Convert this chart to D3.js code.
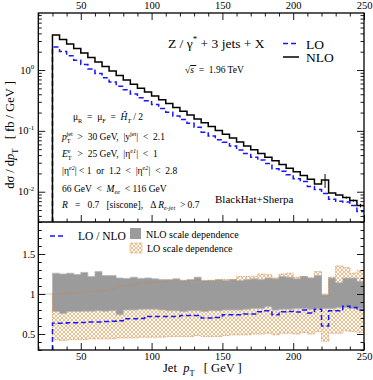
<!DOCTYPE html>
<html>
<head>
<meta charset="utf-8">
<script src="https://cdn.jsdelivr.net/npm/d3@7"></script>
<style>
  body { margin: 0; background: #fff; }
  svg text { font-family: "Liberation Serif", "DejaVu Serif", serif; white-space: pre; }
</style>
</head>
<body>
<div id="chart"></div>
<script>
// bins (lower edge, GeV), 5 GeV wide
const binLow = [30, 35, 40, 45, 50, 55, 60, 65, 70, 75, 80, 85, 90, 95, 100, 105, 110, 115, 120, 125,
  130, 135, 140, 145, 150, 155, 160, 165, 170, 175, 180, 185, 190, 195, 200, 205, 210, 215, 220, 225,
  230, 235, 240, 245];
const binWidth = 5;

// dsigma/dpT [fb/GeV]
const nlo = [3.76, 3.17, 2.675, 2.256, 1.903, 1.605, 1.354, 1.142, 0.963, 0.812, 0.685, 0.582, 0.502, 0.435,
  0.375, 0.325, 0.2815, 0.2428, 0.2103, 0.1822, 0.1572, 0.1361, 0.1179, 0.1017, 0.0881, 0.0760, 0.0656,
  0.0564, 0.0490, 0.0426, 0.0370, 0.0322, 0.0280, 0.0243, 0.0212, 0.0184, 0.0160, 0.01338, 0.01557,
  0.00952, 0.00883, 0.00803, 0.00717, 0.00593];
const lo = [2.388, 2.013, 1.712, 1.444, 1.227, 1.043, 0.880, 0.748, 0.636, 0.540, 0.473, 0.402, 0.349, 0.313,
  0.270, 0.234, 0.2027, 0.1748, 0.1535, 0.1330, 0.1148, 0.0953, 0.0825, 0.0717, 0.0652, 0.0562, 0.0485,
  0.0423, 0.0368, 0.0332, 0.0292, 0.0238, 0.0218, 0.0190, 0.0164, 0.0147, 0.0122, 0.01084, 0.00934,
  0.00752, 0.00698, 0.00679, 0.00595, 0.00474];
const nloErr = [0, 0, 0, 0, 0, 0, 0, 0, 0, 0, 0, 0, 0, 0, 0, 0, 0, 0, 0, 0, 0, 0, 0, 0, 0, 0, 0, 0, 0, 0,
  0, 0, 0, 0, 0, 0, 0, 0, 0.004, 0, 0, 0.0003, 0.0003, 0.0004];

// scale dependence bands, relative to NLO
const nloBandHigh = [1.26, 1.25, 1.26, 1.245, 1.27, 1.22, 1.28, 1.23, 1.23, 1.20, 1.195, 1.21, 1.195, 1.20,
  1.19, 1.18, 1.18, 1.19, 1.17, 1.18, 1.21, 1.17, 1.17, 1.18, 1.17, 1.18, 1.17, 1.18, 1.19, 1.18, 1.20,
  1.19, 1.22, 1.21, 1.19, 1.22, 1.20, 1.23, 0.99, 1.20, 1.14, 1.20, 1.20, 1.16];
const nloBandLow = [0.78, 0.755, 0.78, 0.78, 0.785, 0.785, 0.79, 0.785, 0.79, 0.74, 0.80, 0.80, 0.81, 0.81,
  0.81, 0.80, 0.79, 0.79, 0.78, 0.79, 0.79, 0.78, 0.79, 0.79, 0.80, 0.80, 0.80, 0.81, 0.82, 0.82, 0.84,
  0.80, 0.81, 0.81, 0.82, 0.82, 0.81, 0.82, 0.82, 0.82, 0.83, 0.83, 0.82, 0.82];
const loBandHigh = [1.00, 1.005, 1.01, 1.02, 1.02, 1.03, 1.04, 1.04, 1.06, 1.10, 1.10, 1.11, 1.14, 1.14,
  1.145, 1.15, 1.16, 1.16, 1.17, 1.17, 1.17, 1.16, 1.17, 1.17, 1.18, 1.18, 1.22, 1.22, 1.22, 1.25, 1.24,
  1.20, 1.25, 1.26, 1.21, 1.22, 1.20, 1.28, 0.97, 1.21, 1.35, 1.33, 1.26, 1.29];
const loBandLow = [0.43, 0.42, 0.43, 0.43, 0.43, 0.44, 0.44, 0.44, 0.44, 0.45, 0.45, 0.45, 0.46, 0.46,
  0.46, 0.46, 0.47, 0.47, 0.47, 0.47, 0.48, 0.47, 0.47, 0.47, 0.48, 0.49, 0.49, 0.49, 0.50, 0.50, 0.51,
  0.49, 0.51, 0.51, 0.50, 0.52, 0.50, 0.53, 0.41, 0.51, 0.51, 0.54, 0.53, 0.52];

// ticks
const xTicks = [50, 100, 150, 200, 250];
const xMinor = [20, 30, 40, 60, 70, 80, 90, 110, 120, 130, 140, 160, 170, 180, 190, 210, 220, 230, 240];
const yTopTicks = [0.01, 0.1, 1];
const yTopExp = ["-2", "-1", "0"];
const yBotTicks = [0.5, 1, 1.5];
const yBotMinor = [0.3, 0.4, 0.6, 0.7, 0.8, 0.9, 1.1, 1.2, 1.3, 1.4, 1.6, 1.7, 1.8, 1.9];

const W = 373, H = 380;
const pLeft = 38.3, pRight = 364, pTop = 13, pMid = 222, pBottom = 350;
const serif = "Liberation Serif";

const svg = d3.select("#chart").append("svg")
  .attr("width", W).attr("height", H);

const x = d3.scaleLinear().domain([20, 250]).range([pLeft, pRight]);
const yTop = d3.scaleLog().domain([0.00318, 8.65]).range([pMid, pTop]);
const yBot = d3.scaleLinear().domain([0.3, 1.9]).range([pBottom, pMid]);

// log minor ticks
const yTopMinor = [];
[0.001, 0.01, 0.1, 1].forEach(d => {
  for (let m = 2; m <= 9; m++) {
    const v = d * m;
    if (v > yTop.domain()[0] && v < yTop.domain()[1]) yTopMinor.push(v);
  }
});

const defs = svg.append("defs");
defs.append("clipPath").attr("id", "clipTop").append("rect")
  .attr("x", pLeft).attr("y", pTop).attr("width", pRight - pLeft).attr("height", pMid - pTop);
defs.append("clipPath").attr("id", "clipBot").append("rect")
  .attr("x", pLeft).attr("y", pMid).attr("width", pRight - pLeft).attr("height", pBottom - pMid);
const pat = defs.append("pattern").attr("id", "hatch")
  .attr("patternUnits", "userSpaceOnUse").attr("width", 4).attr("height", 4);
pat.append("path").attr("d", "M0,0L4,4M4,0L0,4M-1,1L1,-1M3,5L5,3M-1,3L1,5M3,-1L5,1")
  .attr("stroke", "#eab27a").attr("stroke-width", 0.85);

// rich text helper (sub / sup / italic pieces)
function rich(g, px, py, parts, size, anchor) {
  const t = g.append("text").attr("x", px).attr("y", py)
    .attr("font-size", size).attr("text-anchor", anchor || "start")
    .attr("xml:space", "preserve");
  let shift = 0;
  parts.forEach(p => {
    const target = p.sub ? size * 0.3 : p.sup ? -size * 0.42 : 0;
    const s = t.append("tspan").attr("dy", target - shift).text(p.t);
    shift = target;
    if (p.sub || p.sup) s.attr("font-size", size * 0.66);
    if (p.it) s.attr("font-style", "italic");
    if (p.dx) s.attr("dx", p.dx);
    if (p.over) s.style("text-decoration", "overline");
  });
  return t;
}

// step points for histograms
function steps(vals, floor) {
  const pts = [];
  if (floor !== undefined) pts.push([binLow[0], floor]);
  vals.forEach((v, i) => pts.push([binLow[i], v]));
  pts.push([binLow[vals.length - 1] + binWidth, vals[vals.length - 1]]);
  return pts;
}

// ===== upper panel =====
const gTop = svg.append("g").attr("clip-path", "url(#clipTop)");
const lineTop = d3.line().curve(d3.curveStepAfter)
  .x(d => x(d[0])).y(d => yTop(d[1]));

gTop.append("path")
  .attr("d", lineTop(steps(lo, yTop.domain()[0])))
  .attr("fill", "none").attr("stroke", "#1515ff").attr("stroke-width", 1.5)
  .attr("stroke-dasharray", "5,3");
gTop.append("path")
  .attr("d", lineTop(steps(nlo, yTop.domain()[0])))
  .attr("fill", "none").attr("stroke", "#000").attr("stroke-width", 1.5);
gTop.selectAll(".err").data(nlo.map((v, i) => ({ v, e: nloErr[i], b: binLow[i] })).filter(d => d.e > 0))
  .enter().append("line")
  .attr("x1", d => x(d.b + binWidth / 2)).attr("x2", d => x(d.b + binWidth / 2))
  .attr("y1", d => yTop(d.v + d.e)).attr("y2", d => yTop(d.v - d.e))
  .attr("stroke", "#000").attr("stroke-width", 1);

// ===== lower panel =====
const gBot = svg.append("g").attr("clip-path", "url(#clipBot)");
gBot.append("line")
  .attr("x1", pLeft).attr("x2", pRight).attr("y1", yBot(1)).attr("y2", yBot(1))
  .attr("stroke", "#cfcfcf").attr("stroke-width", 1);

const band = d3.area().curve(d3.curveStepAfter)
  .x(d => x(d[0])).y0(d => yBot(d[1])).y1(d => yBot(d[2]));
function bandPts(lowV, highV) {
  const pts = lowV.map((v, i) => [binLow[i], v, highV[i]]);
  pts.push([binLow[lowV.length - 1] + binWidth, lowV[lowV.length - 1], highV[highV.length - 1]]);
  return pts;
}
const loPts = bandPts(loBandLow, loBandHigh);
gBot.append("path").attr("d", band(loPts)).attr("fill", "url(#hatch)");
gBot.append("path").attr("d", band(bandPts(nloBandLow, nloBandHigh)))
  .attr("fill", "#9b9b9b").attr("stroke", "#b5b5b5").attr("stroke-width", 0.8);
gBot.append("path").attr("d", band(loPts))
  .attr("fill", "none").attr("stroke", "#cf8840").attr("stroke-width", 0.7)
  .attr("stroke-dasharray", "1.5,1");

const ratio = lo.map((v, i) => v / nlo[i]);
const lineBot = d3.line().curve(d3.curveStepAfter)
  .x(d => x(d[0])).y(d => yBot(d[1]));
gBot.append("path")
  .attr("d", lineBot(steps(ratio, yBot.domain()[0])))
  .attr("fill", "none").attr("stroke", "#1515ff").attr("stroke-width", 1.5)
  .attr("stroke-dasharray", "5,3");

// ===== axes =====
function styleAxis(g) {
  g.select(".domain").remove();
  g.attr("font-family", serif).attr("font-size", 10.5);
  g.selectAll("line").attr("stroke-width", 0.9);
}
const noLab = () => "";

// top x axis (upper panel)
svg.append("g").attr("transform", `translate(0,${pTop})`)
  .call(d3.axisTop(x).tickValues(xTicks).tickSize(-7).tickPadding(4).tickFormat(d3.format("")))
  .call(styleAxis);
svg.append("g").attr("transform", `translate(0,${pTop})`)
  .call(d3.axisTop(x).tickValues(xMinor).tickSize(-3.5).tickFormat(noLab)).call(styleAxis);
// bottom of upper panel
svg.append("g").attr("transform", `translate(0,${pMid})`)
  .call(d3.axisBottom(x).tickValues(xTicks).tickSize(-7).tickFormat(noLab)).call(styleAxis);
svg.append("g").attr("transform", `translate(0,${pMid})`)
  .call(d3.axisBottom(x).tickValues(xMinor).tickSize(-3.5).tickFormat(noLab)).call(styleAxis);
// bottom of lower panel
svg.append("g").attr("transform", `translate(0,${pBottom})`)
  .call(d3.axisBottom(x).tickValues(xTicks).tickSize(-7).tickPadding(3).tickFormat(d3.format("")))
  .call(styleAxis);
svg.append("g").attr("transform", `translate(0,${pBottom})`)
  .call(d3.axisBottom(x).tickValues(xMinor).tickSize(-3.5).tickFormat(noLab)).call(styleAxis);

// y axes, both sides
[["L", pLeft], ["R", pRight]].forEach(([side, px]) => {
  const mk = side === "L" ? d3.axisLeft : d3.axisRight;
  svg.append("g").attr("transform", `translate(${px},0)`)
    .call(mk(yTop).tickValues(yTopTicks).tickSize(-7).tickFormat(noLab)).call(styleAxis);
  svg.append("g").attr("transform", `translate(${px},0)`)
    .call(mk(yTop).tickValues(yTopMinor).tickSize(-3.5).tickFormat(noLab)).call(styleAxis);
  svg.append("g").attr("transform", `translate(${px},0)`)
    .call(mk(yBot).tickValues(yBotTicks).tickSize(-7).tickPadding(3)
      .tickFormat(side === "L" ? d3.format("") : noLab)).call(styleAxis);
  svg.append("g").attr("transform", `translate(${px},0)`)
    .call(mk(yBot).tickValues(yBotMinor).tickSize(-3.5).tickFormat(noLab)).call(styleAxis);
});

// 10^n labels
yTopTicks.forEach((v, i) => {
  rich(svg, pLeft - 4, yTop(v) + 3.5, [{ t: "10" }, { t: yTopExp[i], sup: true }], 10.5, "end");
});

// frames
svg.append("rect").attr("x", pLeft).attr("y", pTop).attr("width", pRight - pLeft).attr("height", pBottom - pTop)
  .attr("fill", "none").attr("stroke", "#000").attr("stroke-width", 1.3);
svg.append("line").attr("x1", pLeft).attr("x2", pRight).attr("y1", pMid).attr("y2", pMid)
  .attr("stroke", "#000").attr("stroke-width", 1.3);

// axis titles
const yt = svg.append("g").attr("transform", "translate(14,135) rotate(-90)");
rich(yt, 0, 0, [{ t: "dσ / d" }, { t: "p", it: true }, { t: "T", sub: true }, { t: "   [ fb / GeV ]" }], 12.5, "middle");
rich(svg, 163, 372, [{ t: "Jet  " }, { t: "p", it: true }, { t: "T", sub: true }, { t: "   [ GeV ]" }], 12.5);

// ===== upper panel texts =====
rich(svg, 168, 48, [{ t: "Z / γ" }, { t: "*", sup: true }, { t: " + 3 jets + X" }], 13.5);
svg.append("line").attr("x1", 283).attr("x2", 299).attr("y1", 43.5).attr("y2", 43.5)
  .attr("stroke", "#1515ff").attr("stroke-width", 1.5).attr("stroke-dasharray", "5,3");
svg.append("line").attr("x1", 283).attr("x2", 299).attr("y1", 57).attr("y2", 57)
  .attr("stroke", "#000").attr("stroke-width", 1.5);
rich(svg, 306, 48.5, [{ t: "LO" }], 13.5);
rich(svg, 306, 62, [{ t: "NLO" }], 13.5);
rich(svg, 185, 73, [{ t: "√" }, { t: "s ", it: true, over: true }, { t: " =  1.96 TeV" }], 9.5);

const fs = 9.5;
rich(svg, 73, 120, [{ t: "μ" }, { t: "R", sub: true }, { t: "  =  μ" }, { t: "F", sub: true },
  { t: "  =  " }, { t: "Ĥ", it: true }, { t: "T", sub: true, it: true }, { t: " / 2" }], fs);
rich(svg, 62, 140, [{ t: "p", it: true }, { t: "T", sub: true }, { t: "jet", sup: true, dx: -4 },
  { t: "  >  30 GeV,  |y" }, { t: "jet", sup: true }, { t: "|  <  2.1" }], fs);
rich(svg, 62, 157, [{ t: "E", it: true }, { t: "T", sub: true }, { t: "e", sup: true, it: true, dx: -4 },
  { t: "   >  25 GeV,  |η" }, { t: "e1", sup: true, it: true }, { t: "|  <  1" }], fs);
rich(svg, 62, 174, [{ t: "|η" }, { t: "e2", sup: true, it: true }, { t: "| < 1  or  1.2  <  |η" },
  { t: "e2", sup: true, it: true }, { t: "|  <  2.8" }], fs);
rich(svg, 62, 191.5, [{ t: "66 GeV  <  " }, { t: "M", it: true }, { t: "ee", sub: true, it: true },
  { t: "  < 116 GeV" }], fs);
rich(svg, 62, 207.5, [{ t: "R", it: true }, { t: "   =   0.7   [siscone],   Δ " }, { t: "R", it: true },
  { t: "e-jet", sub: true, it: true }, { t: "  > 0.7" }], fs);
rich(svg, 215, 203, [{ t: "BlackHat+Sherpa" }], 11);

// ===== lower panel legend =====
svg.append("line").attr("x1", 50).attr("x2", 66).attr("y1", 236).attr("y2", 236)
  .attr("stroke", "#1515ff").attr("stroke-width", 1.5).attr("stroke-dasharray", "5,3");
rich(svg, 78, 239.5, [{ t: "LO / NLO" }], 11.5);
svg.append("rect").attr("x", 130).attr("y", 228).attr("width", 11).attr("height", 11)
  .attr("fill", "#9b9b9b");
rich(svg, 146, 237.5, [{ t: "NLO scale dependence" }], 10);
svg.append("rect").attr("x", 130).attr("y", 243).attr("width", 12).attr("height", 10)
  .attr("fill", "url(#hatch)").attr("stroke", "#e4a465").attr("stroke-width", 0.5);
rich(svg, 147, 251.5, [{ t: "LO scale dependence" }], 10);
</script>
</body>
</html>
